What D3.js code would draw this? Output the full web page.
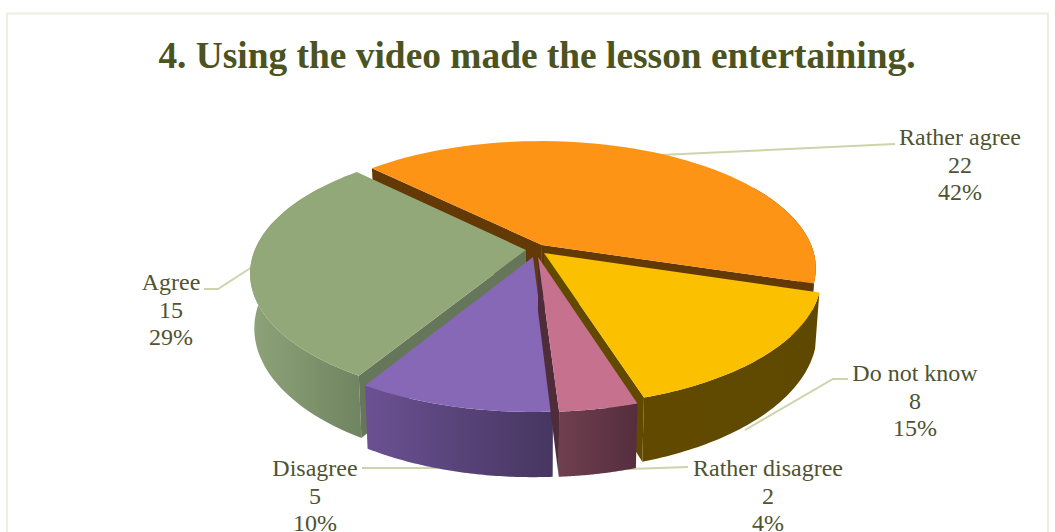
<!DOCTYPE html>
<html><head><meta charset="utf-8">
<script src="https://cdn.jsdelivr.net/npm/d3@7"></script>
<style>html,body{margin:0;padding:0;background:#fff;overflow:hidden}svg{display:block}text{font-family:"Liberation Serif",serif}</style>
</head><body>
<svg id="c" width="1055" height="532"></svg>
<script>
const title = "4. Using the video made the lesson entertaining.";
const categories = ["Rather agree","Do not know","Rather disagree","Disagree","Agree"];
const values = [22,8,2,5,15];
const topColors = ["#FD9415","#FBC000","#C6718D","#8768B7","#93A878"];
const faceColors = ["#633A06","#614A00","#4F2C3A","#463660","#65765A"];
const wallFrom = ["#633A06","#614A00","#6F3F4F","#6B5193","#8FA37A"];
const wallTo = ["#633A06","#5F4800","#552E3D","#463660","#6F8460"];

const svg = d3.select("#c");
const W=1055,H=532, cx=534, cy=252, R=272, Rk=125, p=0.18, depth=53, taper=0.015;
const startDeg=-45;
const explode=[[8,-7],[10,1],[4,5],[-1,5],[-8,-2]];
const drawOrder=[0,4,1,3,2];
const labelPos=[[960,145],[915,381],[768,476],[315,476],[171,290]];
const leaders=[[[895,144],[660,155]],[[848,379],[833,379],[745,430]],[[688,467],[600,470]],[[362,468],[460,468]],[[204,289],[218,289],[252,267]]];

svg.append("rect").attr("x",7).attr("y",13.5).attr("width",1041).attr("height",540)
  .attr("fill","#fff").attr("stroke","#ECEEE0").attr("stroke-width",2);
svg.append("text").attr("x",537).attr("y",68).attr("text-anchor","middle")
  .attr("font-size",37.4).attr("font-weight","bold").attr("fill","#4B5320").text(title);

const line=d3.line();
const gLead=svg.append("g");
leaders.forEach(l=>gLead.append("path").attr("d",line(l)).attr("fill","none").attr("stroke","#CDD4AB").attr("stroke-width",2));

const pie=d3.pie().sort(null).startAngle(startDeg*Math.PI/180).endAngle((startDeg+360)*Math.PI/180);
const arcs=pie(values);
const defs=svg.append("defs");
function proj(u,v,z){const s=1/(1-p*v);return [cx+R*u*s*(1-taper*z), cy+Rk*v*s+depth*z*s];}
const gPie=svg.append("g");
drawOrder.forEach(i=>{
  const a=arcs[i], ex=explode[i][0]/R, ey=explode[i][1]/Rk;
  const pt=(ang,r,z)=>proj(ex+r*Math.sin(ang), ey-r*Math.cos(ang), z);
  const samples=d3.range(0,61).map(k=>a.startAngle+(a.endAngle-a.startAngle)*k/60);
  const id="w"+i;
  const gr=defs.append("linearGradient").attr("id",id).attr("x1",0).attr("x2",1).attr("y1",0).attr("y2",0);
  gr.append("stop").attr("offset",0).attr("stop-color",wallFrom[i]);
  gr.append("stop").attr("offset",1).attr("stop-color",wallTo[i]);
  const vis=samples.filter(t=>Math.cos(t)<0.55);
  const wall=vis.map(t=>pt(t,1,0)).concat(vis.slice().reverse().map(t=>pt(t,1,1)));
  gPie.append("path").attr("d",line(wall)+"Z").attr("fill",`url(#${id})`);
  const apex=pt(0,0,0), apexB=pt(0,0,1);
  const s0=pt(a.startAngle,1,0), e0=pt(a.endAngle,1,0);
  if(s0[0]<apex[0]) gPie.append("path").attr("d",line([apex,s0,pt(a.startAngle,1,1),apexB])+"Z").attr("fill",faceColors[i]);
  if(e0[0]>apex[0]) gPie.append("path").attr("d",line([apex,e0,pt(a.endAngle,1,1),apexB])+"Z").attr("fill",faceColors[i]);
  const top=[apex].concat(samples.map(t=>pt(t,1,0)));
  gPie.append("path").attr("d",line(top)+"Z").attr("fill",topColors[i]);
});

const total=d3.sum(values), pct=d3.format(".0%");
const gLab=svg.append("g").attr("font-size",24).attr("fill","#4F5330").attr("text-anchor","middle");
categories.forEach((c,i)=>{
  const [x,y]=labelPos[i];
  [c,String(values[i]),pct(values[i]/total)].forEach((t,k)=>{
    gLab.append("text").attr("x",x).attr("y",y+k*27.5).text(t);
  });
});
</script>
</body></html>
